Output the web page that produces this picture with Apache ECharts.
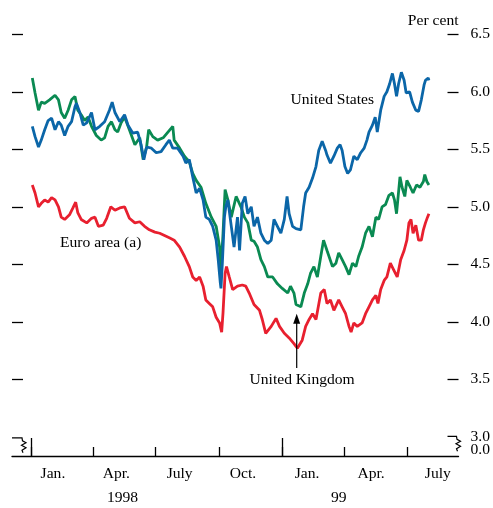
<!DOCTYPE html>
<html><head><meta charset="utf-8">
<script src="https://cdn.jsdelivr.net/npm/echarts@6/dist/echarts.min.js"></script>
<style>html,body{margin:0;padding:0;background:#fff}#c{width:493px;height:508px}</style>
</head><body><div id="c"></div>
<script>
// x values: days since 1 Jan 1998
const usDays = [2,6,11,15,20,25,30,35,40,44,49,54,59,64,66,71,76,81,88,93,100,107,114,118,122,129,136,141,148,155,160,164,168,175,182,189,196,201,206,213,221,225,230,235,240,245,250,254,259,264,269,272,275,276,278,281,283,286,291,295,300,303,307,311,315,320,324,329,334,339,344,349,353,358,363,368,372,375,380,385,392,396,399,404,409,414,418,423,428,430,435,440,445,449,452,456,460,464,469,474,479,484,488,491,496,500,503,508,513,517,521,525,528,531,534,538,542,545,550,554,559,563,567,571,573,577,578];
const usRates = [5.70,5.61,5.52,5.58,5.67,5.75,5.77,5.67,5.74,5.71,5.62,5.70,5.74,5.87,5.90,5.82,5.71,5.73,5.82,5.67,5.70,5.74,5.84,5.91,5.82,5.74,5.80,5.71,5.64,5.65,5.54,5.41,5.52,5.51,5.47,5.48,5.54,5.58,5.51,5.51,5.44,5.38,5.41,5.26,5.12,5.16,5.06,4.91,4.89,4.83,4.71,4.54,4.34,4.29,4.51,4.91,5.00,5.06,4.83,4.65,4.91,4.62,5.03,5.09,4.94,5.00,4.83,4.91,4.77,4.71,4.68,4.71,4.89,4.83,4.77,4.89,5.09,4.94,4.83,4.81,4.80,5.00,5.12,5.17,5.25,5.35,5.49,5.57,5.49,5.45,5.38,5.44,5.51,5.54,5.49,5.35,5.29,5.32,5.44,5.41,5.47,5.51,5.58,5.65,5.71,5.78,5.65,5.84,5.96,6.00,6.07,6.16,6.07,5.96,6.07,6.17,6.10,5.99,6.00,5.91,5.84,5.83,5.93,6.06,6.10,6.12,6.10];

const ukDays = [2,6,11,15,20,27,35,40,44,49,54,59,64,68,73,78,83,88,95,102,107,112,117,122,126,131,136,143,151,158,163,168,171,177,184,192,199,206,208,216,223,230,235,240,247,254,262,269,274,276,279,282,286,291,298,305,310,315,320,324,329,334,339,344,351,358,365,373,377,382,385,392,397,402,406,411,416,421,425,430,438,443,447,452,457,462,467,472,476,481,486,491,496,501,505,510,515,520,525,528,531,536,539,543,546,551,555,560,565,570,572,575,578];
const ukRates = [6.12,5.99,5.84,5.91,5.90,5.93,5.97,5.93,5.82,5.77,5.84,5.93,5.96,5.84,5.80,5.75,5.78,5.70,5.62,5.58,5.60,5.70,5.74,5.67,5.65,5.73,5.78,5.67,5.54,5.60,5.41,5.52,5.67,5.61,5.58,5.60,5.65,5.70,5.58,5.51,5.44,5.39,5.29,5.23,5.17,5.03,4.91,4.83,4.65,4.45,4.77,5.15,5.06,4.91,5.09,5.00,4.91,4.86,4.71,4.70,4.65,4.54,4.48,4.39,4.39,4.33,4.29,4.25,4.31,4.25,4.15,4.13,4.25,4.33,4.42,4.48,4.39,4.57,4.71,4.62,4.48,4.51,4.60,4.54,4.48,4.41,4.51,4.48,4.57,4.65,4.77,4.83,4.74,4.91,4.89,5.00,5.02,5.10,5.12,5.06,4.94,5.26,5.17,5.09,5.23,5.17,5.12,5.19,5.17,5.22,5.28,5.22,5.19];

const euDays = [2,6,11,13,15,20,25,30,35,40,44,49,56,61,65,68,73,81,88,93,98,105,110,116,122,129,136,143,151,158,165,172,180,187,194,201,208,216,223,230,235,240,245,250,254,259,264,269,274,277,279,282,284,288,293,300,307,312,317,324,332,336,341,349,356,361,368,375,382,387,394,399,404,409,414,421,426,430,435,440,447,452,457,462,465,469,474,481,486,491,496,501,504,508,513,517,522,527,532,537,542,546,549,552,555,559,563,567,570,573,576,578];
const euRates = [5.19,5.12,5.00,4.99,5.03,5.06,5.04,5.08,5.06,5.00,4.91,4.89,4.93,4.99,5.04,4.95,4.89,4.86,4.90,4.91,4.83,4.84,4.90,5.00,4.97,4.99,5.00,4.90,4.86,4.87,4.83,4.80,4.78,4.77,4.75,4.73,4.71,4.65,4.57,4.48,4.39,4.36,4.39,4.31,4.19,4.16,4.13,4.04,3.99,3.91,4.08,4.42,4.48,4.39,4.28,4.31,4.32,4.31,4.25,4.15,4.10,4.02,3.90,3.96,4.03,3.96,3.90,3.86,3.81,3.77,3.84,3.96,4.02,4.07,4.02,4.25,4.28,4.16,4.19,4.10,4.19,4.13,4.07,3.96,3.91,3.99,3.96,3.99,4.07,4.13,4.19,4.23,4.16,4.28,4.36,4.39,4.51,4.45,4.39,4.54,4.62,4.71,4.86,4.89,4.77,4.84,4.71,4.71,4.80,4.86,4.91,4.94];

const quarterTickDays = [0, 90, 181, 273, 365, 455, 546];
const janTickDays = [0, 365];
const monthLabels = ['Jan.', 'Apr.', 'July', 'Oct.', 'Jan.', 'Apr.', 'July'];
const monthLabelDays = [32, 124, 216, 308, 401, 494, 591];
const yearLabels = ['1998', '99'];
const yearLabelDays = [133, 447];
const yTicks = [3.5, 4.0, 4.5, 5.0, 5.5, 6.0, 6.5];
const yLabelValues = [3.0, 3.5, 4.0, 4.5, 5.0, 5.5, 6.0, 6.5];
const breakLabelValue = [2.89]; // shown as "0.0" below the axis break

const X_MIN = -27.5, X_MAX = 621, Y_MIN = 2.833, Y_MAX = 6.5;
const FONT = 'Liberation Serif';
const FS = 15.6;

function zip(a, b) { return a.map((d, i) => [d, b[i]]); }
function nearestLabel(v, pos, labels) {
  let best = 0;
  for (let i = 1; i < pos.length; i++) if (Math.abs(pos[i] - v) < Math.abs(pos[best] - v)) best = i;
  return labels[best];
}

const chart = echarts.init(document.getElementById('c'), null, { renderer: 'canvas' });
const txt = { fontFamily: FONT, fontSize: FS, color: '#000' };
const tickStyle = { color: '#000', width: 1.3 };

function yAx(pos, ticks, labelVals, fmt) {
  return {
    type: 'value', position: pos, min: Y_MIN, max: Y_MAX,
    axisLine: { show: false, onZero: false },
    axisTick: ticks ? { show: true, inside: true, length: 11, customValues: ticks, lineStyle: tickStyle } : { show: false },
    axisLabel: labelVals ? { show: true, customValues: labelVals, margin: 12, hideOverlap: false, ...txt, formatter: fmt } : { show: false },
    splitLine: { show: false }
  };
}

chart.setOption({
  animation: false,
  backgroundColor: '#fff',
  grid: { left: 12, right: 33, top: 34.3, bottom: 52, containLabel: false },
  xAxis: [
    {
      type: 'value', min: X_MIN, max: X_MAX,
      axisLine: { show: true, onZero: false, lineStyle: { color: '#000', width: 1.3 } },
      axisTick: { show: true, inside: true, length: 9, customValues: quarterTickDays, lineStyle: tickStyle },
      axisLabel: { show: true, customValues: monthLabelDays, margin: 10, ...txt,
        formatter: v => nearestLabel(v, monthLabelDays, monthLabels) },
      splitLine: { show: false }
    },
    {
      type: 'value', min: X_MIN, max: X_MAX, position: 'bottom',
      axisLine: { show: false, onZero: false },
      axisTick: { show: true, inside: true, length: 18, customValues: janTickDays, lineStyle: tickStyle },
      axisLabel: { show: true, customValues: yearLabelDays, margin: 34, ...txt,
        formatter: v => nearestLabel(v, yearLabelDays, yearLabels) },
      splitLine: { show: false }
    }
  ],
  yAxis: [
    yAx('left', yTicks, null),
    yAx('right', yTicks, yLabelValues, v => v.toFixed(1)),
    yAx('right', null, breakLabelValue, () => '0.0')
  ],
  series: [
    { name: 'Euro area (a)', type: 'line', data: zip(euDays, euRates), showSymbol: false, symbol: 'none',
      lineStyle: { color: '#e8202f', width: 2.8 }, z: 3 },
    { name: 'United Kingdom', type: 'line', data: zip(ukDays, ukRates), showSymbol: false, symbol: 'none',
      lineStyle: { color: '#0a8a52', width: 2.8 }, z: 4 },
    { name: 'United States', type: 'line', data: zip(usDays, usRates), showSymbol: false, symbol: 'none',
      lineStyle: { color: '#0b66a8', width: 2.8 }, z: 5 }
  ]
});

// annotations placed through the chart's own scales
const P = (x, y) => chart.convertToPixel({ gridIndex: 0 }, [x, y]);
const pL = P(X_MIN, 3.0), pR = P(X_MAX, 3.0);
const yb = pL[1] + 1;
const leftBreak = [[pL[0], yb], [pL[0] + 10, yb], [pL[0] + 10.5, yb + 3], [pL[0] + 14, yb + 5], [pL[0] + 9.5, yb + 7.5], [pL[0] + 14, yb + 10], [pL[0] + 10, yb + 12.5], [pL[0] + 11, yb + 15]];
const yr = pR[1] - 0.5;
const rightBreak = [[pR[0] - 11, yr], [pR[0] - 2, yr], [pR[0] - 1.5, yr + 3], [pR[0] + 2, yr + 5], [pR[0] - 2.5, yr + 7.5], [pR[0] + 2, yr + 10], [pR[0] - 2, yr + 12.5], [pR[0] - 1, yr + 15]];

const ukMinIdx = ukRates.indexOf(Math.min(...ukRates));
const ukMin = P(ukDays[ukMinIdx] - 6, ukRates[ukMinIdx]);
const tipY = ukMin[1] + 7;
const ax = ukMin[0];
const pTop = P(X_MAX, Y_MAX);
const font = FS + 'px ' + FONT;

chart.setOption({
  graphic: [
    { type: 'polyline', shape: { points: leftBreak }, style: { stroke: '#000', lineWidth: 1.2, fill: null }, z: 10 },
    { type: 'polyline', shape: { points: rightBreak }, style: { stroke: '#000', lineWidth: 1.2, fill: null }, z: 10 },
    { type: 'text', x: pTop[0], y: 21, style: { text: 'Per cent', font, fill: '#000', textAlign: 'right', textVerticalAlign: 'middle' } },
    { type: 'text', x: 290.5, y: 100, style: { text: 'United States', font, fill: '#000', textAlign: 'left', textVerticalAlign: 'middle' } },
    { type: 'text', x: 60, y: 243, style: { text: 'Euro area (a)', font, fill: '#000', textAlign: 'left', textVerticalAlign: 'middle' } },
    { type: 'text', x: 249.5, y: 380, style: { text: 'United Kingdom', font, fill: '#000', textAlign: 'left', textVerticalAlign: 'middle' } },
    { type: 'line', shape: { x1: ax, y1: tipY + 6, x2: ax, y2: 368 }, style: { stroke: '#000', lineWidth: 1.2 }, z: 10 },
    { type: 'polygon', shape: { points: [[ax, tipY], [ax - 3.5, tipY + 10], [ax + 3.5, tipY + 10]] }, style: { fill: '#000' }, z: 10 }
  ]
});
</script></body></html>
